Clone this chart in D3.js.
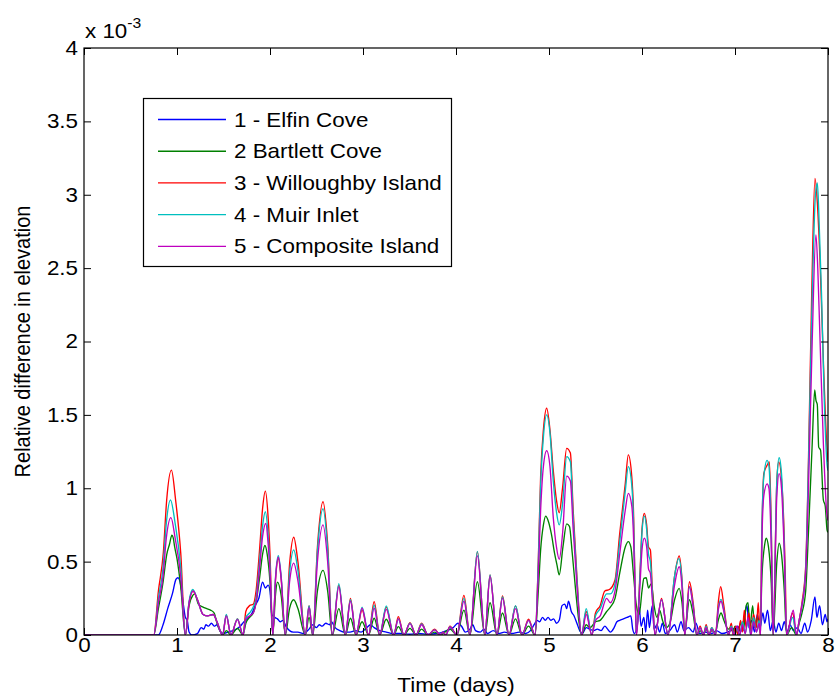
<!DOCTYPE html>
<html>
<head>
<meta charset="utf-8">
<script src="https://cdn.jsdelivr.net/npm/d3@7"></script>
<style>
  html, body { margin: 0; padding: 0; background: #fff; }
  svg { display: block; }
  text { font-family: "Liberation Sans", Arial, Helvetica, sans-serif; fill: #000; }
</style>
</head>
<body>
<div id="chart"></div>
<script>
// Relative difference in elevation (units of 1e-3) vs. time in days, per station.
const elfinCove = [
  [0,0],[0.80,0],[0.85,0.07],[0.90,0.18],[0.95,0.28],[0.99,0.38],[1.01,0.39],[1.03,0.37],[1.05,0.30],[1.07,0.20],
  [1.09,0.12],[1.11,0.10],[1.13,0.02],[1.16,0],[1.22,0.01],[1.26,0.05],[1.29,0.04],[1.31,0.07],[1.34,0.06],[1.37,0.08],
  [1.40,0.06],[1.43,0.07],[1.46,0.03],[1.50,0.01],[1.55,0.02],[1.60,0.03],[1.64,0.04],[1.68,0.06],[1.72,0.09],[1.76,0.11],
  [1.80,0.14],[1.84,0.20],[1.88,0.25],[1.92,0.36],[1.95,0.32],[1.98,0.34],[2.00,0.30],[2.02,0.14],[2.05,0.12],[2.08,0.11],
  [2.11,0.09],[2.14,0.10],[2.17,0.06],[2.21,0.03],[2.25,0.02],[2.30,0.02],[2.36,0.01],[2.42,0.04],[2.46,0.07],[2.50,0.05],
  [2.53,0.07],[2.56,0.06],[2.60,0.08],[2.64,0.07],[2.66,0.09],[2.70,0.05],[2.75,0.03],[2.80,0.02],[2.86,0.02],[2.92,0.03],
  [2.98,0.02],[3.04,0.05],[3.08,0.07],[3.12,0.05],[3.18,0.03],[3.25,0.02],[3.32,0.01],[3.40,0.01],[3.50,0.005],[3.60,0.01],
  [3.70,0.005],[3.80,0.01],[3.90,0.03],[3.97,0.05],[4.02,0.08],[4.06,0.06],[4.10,0.02],[4.15,0.04],[4.18,0.07],[4.21,0.03],
  [4.26,0.02],[4.30,0.04],[4.34,0.01],[4.40,0.03],[4.46,0.01],[4.52,0.02],[4.60,0.01],[4.68,0.02],[4.75,0.01],[4.80,0.03],
  [4.84,0.07],[4.87,0.10],[4.90,0.09],[4.93,0.12],[4.96,0.10],[4.99,0.12],[5.02,0.10],[5.05,0.11],[5.08,0.08],[5.11,0.10],
  [5.14,0.20],[5.17,0.21],[5.19,0.18],[5.21,0.23],[5.24,0.16],[5.27,0.13],[5.30,0.08],[5.33,0.03],[5.36,0.01],[5.40,0.05],
  [5.44,0.04],[5.48,0.03],[5.52,0.04],[5.56,0.03],[5.60,0.06],[5.63,0.04],[5.66,0.02],[5.70,0.05],[5.73,0.09],[5.76,0.10],
  [5.80,0.11],[5.84,0.12],[5.88,0.13],[5.90,0.04],[5.92,0.01],[5.95,0.08],[5.97,0.19],[5.99,0.06],[6.02,0.12],[6.04,0.02],
  [6.06,0.17],[6.08,0.05],[6.11,0.20],[6.13,0.04],[6.16,0.07],[6.19,0.02],[6.22,0.08],[6.25,0.01],[6.30,0.03],[6.35,0.07],
  [6.38,0.02],[6.42,0.09],[6.45,0.03],[6.50,0.05],[6.55,0.02],[6.58,0.08],[6.62,0.01],[6.68,0.02],[6.75,0.01],[6.80,0.03],
  [6.86,0.01],[6.92,0.02],[6.98,0.04],[7.03,0.06],[7.06,0.02],[7.10,0.12],[7.13,0.20],[7.15,0.05],[7.18,0.10],[7.21,0.02],
  [7.24,0.14],[7.27,0.05],[7.30,0.15],[7.32,0.08],[7.35,0.17],[7.38,0.03],[7.41,0.10],[7.44,0.02],[7.47,0.08],[7.50,0.03],
  [7.53,0.09],[7.56,0.02],[7.59,0.07],[7.63,0.03],[7.67,0.05],[7.71,0.01],[7.75,0.08],[7.78,0.02],[7.82,0.10],[7.86,0.26],
  [7.88,0.12],[7.91,0.20],[7.94,0.07],[7.97,0.14],[7.99,0.09],[8.0,0.11]
];

const bartlettCove = [
  [0,0],[0.75,0],[0.80,0.18],[0.85,0.36],[0.89,0.55],[0.92,0.62],[0.945,0.68],[0.96,0.66],[0.975,0.60],[1.00,0.52],[1.04,0.33],[1.09,0],
  [1.13,0.20],[1.17,0.27],[1.19,0.28],[1.23,0.21],[1.28,0.19],[1.32,0.18],[1.36,0.17],[1.40,0.15],[1.43,0.08],[1.47,0.02],[1.49,0],
  [1.53,0.03],[1.58,0],[1.65,0.045],[1.71,0],
  [1.74,0.08],[1.78,0.12],[1.82,0.15],[1.85,0.22],[1.89,0.40],[1.92,0.55],[1.945,0.61],[1.97,0.55],[2.00,0.36],[2.03,0],
  [2.06,0.28],[2.08,0.36],[2.12,0.27],[2.165,0],
  [2.21,0.18],[2.255,0.24],[2.30,0.18],[2.38,0],
  [2.42,0.12],[2.46,0],
  [2.51,0.30],[2.57,0.44],[2.62,0.30],[2.67,0],
  [2.74,0.18],[2.81,0],[2.865,0.114],[2.925,0],[2.99,0.09],[3.06,0],[3.12,0.114],[3.18,0],[3.25,0.107],[3.33,0],
  [3.38,0.057],[3.44,0],[3.505,0.045],[3.57,0],[3.63,0.04],[3.70,0],[3.77,0.02],[3.83,0],[3.935,0.04],[4.01,0],
  [4.085,0.17],[4.15,0],[4.23,0.363],[4.31,0],[4.366,0.22],[4.44,0],[4.50,0.15],[4.57,0],[4.64,0.11],[4.71,0],[4.78,0.06],[4.85,0],
  [4.885,0.30],[4.91,0.58],[4.94,0.75],[4.965,0.81],[4.99,0.78],[5.025,0.69],[5.06,0.557],[5.085,0.48],[5.11,0.41],
  [5.15,0.60],[5.19,0.757],[5.22,0.74],[5.25,0.557],[5.29,0.28],[5.32,0.10],[5.35,0],
  [5.40,0.07],[5.44,0.05],[5.50,0.09],[5.55,0.10],[5.62,0.16],[5.66,0.19],[5.71,0.25],[5.76,0.42],[5.82,0.60],[5.853,0.636],
  [5.88,0.60],[5.91,0.40],[5.94,0.20],[5.97,0.14],[6.00,0.30],[6.02,0.386],[6.045,0.39],[6.07,0.32],[6.10,0.35],[6.13,0.20],
  [6.16,0.12],[6.19,0.17],[6.22,0.10],[6.26,0.05],[6.30,0.08],
  [6.35,0.24],[6.40,0.318],[6.43,0.22],[6.46,0.02],[6.51,0.24],[6.55,0.14],[6.59,0],
  [6.625,0.03],[6.66,0],[6.69,0.04],[6.72,0],[6.75,0.03],[6.79,0.02],[6.82,0.10],[6.85,0.15],[6.88,0.10],[6.93,0.04],
  [6.95,0.05],[6.98,0.02],[7.00,0.06],[7.03,0.01],[7.06,0.08],[7.09,0.03],[7.12,0.20],[7.14,0.22],[7.16,0.05],[7.19,0.20],
  [7.21,0.05],[7.24,0.12],[7.27,0.02],
  [7.29,0.40],[7.32,0.62],[7.335,0.66],[7.36,0.60],[7.39,0.35],[7.41,0],
  [7.45,0.50],[7.475,0.625],[7.50,0.55],[7.53,0.30],[7.555,0],[7.61,0.05],[7.66,0],
  [7.69,0.08],[7.72,0.15],[7.76,0.30],[7.79,0.70],[7.83,1.30],[7.857,1.67],[7.87,1.60],[7.885,1.57],[7.90,1.28],[7.92,1.26],
  [7.95,0.92],[7.97,0.88],[7.99,0.715],[8.0,0.70]
];

const willoughbyIsland = [
  [0,0],[0.75,0],[0.80,0.30],[0.853,0.56],[0.889,0.92],[0.94,1.124],[0.985,0.92],[1.04,0.56],[1.09,0],
  [1.13,0.22],[1.17,0.30],[1.22,0.24],[1.28,0.14],[1.33,0.13],[1.39,0.14],[1.43,0.09],[1.49,0],
  [1.53,0.135],[1.58,0],[1.65,0.11],[1.71,0],
  [1.74,0.16],[1.78,0.20],[1.82,0.21],[1.85,0.30],[1.89,0.60],[1.92,0.86],[1.95,0.98],[1.98,0.80],[2.00,0.55],[2.03,0],
  [2.06,0.38],[2.09,0.52],[2.12,0.38],[2.165,0],
  [2.21,0.48],[2.255,0.666],[2.30,0.50],[2.38,0],
  [2.42,0.20],[2.46,0],
  [2.51,0.60],[2.57,0.908],[2.62,0.62],[2.67,0],
  [2.74,0.34],[2.81,0],[2.865,0.25],[2.925,0],[2.99,0.17],[3.06,0],[3.12,0.227],[3.18,0],[3.25,0.19],[3.33,0],
  [3.38,0.125],[3.44,0],[3.505,0.084],[3.57,0],[3.63,0.08],[3.70,0],[3.77,0.04],[3.83,0],[3.86,0.02],[3.89,0],[3.935,0.06],[4.01,0],
  [4.085,0.27],[4.15,0],[4.23,0.568],[4.31,0],[4.366,0.41],[4.44,0],[4.50,0.266],[4.57,0],[4.64,0.198],[4.71,0],[4.78,0.107],[4.85,0],
  [4.885,0.51],[4.91,1.08],[4.94,1.40],[4.975,1.545],[5.01,1.40],[5.046,1.12],[5.08,0.92],[5.11,0.833],[5.147,1.01],
  [5.19,1.272],[5.23,1.24],[5.26,0.85],[5.30,0.40],[5.35,0],
  [5.40,0.16],[5.46,0],
  [5.50,0.15],[5.55,0.20],[5.60,0.30],[5.65,0.31],[5.71,0.375],[5.76,0.69],[5.82,1.03],[5.853,1.227],[5.89,1.08],[5.91,0.81],[5.925,0.35],[5.94,0],
  [5.98,0.45],[6.00,0.72],[6.025,0.829],[6.05,0.75],[6.07,0.60],[6.09,0.58],[6.11,0.33],[6.14,0],
  [6.21,0.25],[6.28,0],
  [6.35,0.40],[6.40,0.538],[6.43,0.38],[6.46,0],
  [6.51,0.363],[6.55,0.22],[6.59,0],
  [6.625,0.06],[6.66,0],[6.69,0.07],[6.72,0],[6.75,0.05],[6.79,0],
  [6.82,0.22],[6.846,0.33],[6.88,0.20],[6.93,0],
  [6.96,0.08],[6.98,0],[7.01,0.06],[7.03,0],[7.06,0.10],[7.08,0.02],[7.10,0.17],[7.12,0.05],[7.15,0.15],[7.17,0.02],
  [7.20,0.14],[7.23,0.05],[7.25,0.22],[7.27,0],
  [7.29,0.74],[7.31,1.10],[7.34,1.15],[7.37,1.18],[7.39,0.74],[7.41,0],
  [7.45,1.05],[7.47,1.18],[7.51,0.97],[7.54,0.43],[7.555,0],
  [7.62,0.15],[7.66,0],
  [7.69,0.10],[7.72,0.22],[7.76,0.47],[7.79,1.19],[7.825,2.33],[7.86,3.112],[7.885,2.95],[7.914,2.555],[7.95,1.87],[7.99,1.26],[8.0,1.18]
];

const muirInlet = [
  [0,0],[0.75,0],[0.80,0.25],[0.85,0.46],[0.885,0.76],[0.93,0.92],[0.98,0.76],[1.04,0.46],[1.09,0],
  [1.13,0.23],[1.17,0.31],[1.22,0.24],[1.28,0.14],[1.33,0.13],[1.39,0.14],[1.43,0.09],[1.49,0],
  [1.53,0.14],[1.58,0],[1.65,0.11],[1.71,0],
  [1.74,0.12],[1.78,0.15],[1.82,0.19],[1.85,0.25],[1.89,0.52],[1.92,0.74],[1.95,0.84],[1.98,0.68],[2.00,0.47],[2.03,0],
  [2.06,0.40],[2.09,0.54],[2.12,0.40],[2.165,0],
  [2.21,0.42],[2.255,0.58],[2.30,0.44],[2.38,0],
  [2.42,0.20],[2.46,0],
  [2.51,0.57],[2.57,0.86],[2.62,0.58],[2.67,0],
  [2.74,0.35],[2.81,0],[2.865,0.24],[2.925,0],[2.99,0.19],[3.06,0],[3.12,0.204],[3.18,0],[3.25,0.198],[3.33,0],
  [3.38,0.11],[3.44,0],[3.505,0.08],[3.57,0],[3.63,0.075],[3.70,0],[3.77,0.035],[3.83,0],[3.86,0.02],[3.89,0],[3.935,0.055],[4.01,0],
  [4.085,0.25],[4.15,0],[4.23,0.57],[4.31,0],[4.366,0.41],[4.44,0],[4.50,0.26],[4.57,0],[4.64,0.20],[4.71,0],[4.78,0.10],[4.85,0],
  [4.885,0.49],[4.91,1.02],[4.94,1.35],[4.975,1.50],[5.01,1.38],[5.046,1.05],[5.08,0.84],[5.11,0.75],[5.147,0.90],
  [5.19,1.215],[5.23,1.18],[5.26,0.80],[5.30,0.38],[5.35,0],
  [5.40,0.18],[5.46,0],
  [5.50,0.13],[5.55,0.18],[5.62,0.28],[5.66,0.28],[5.71,0.35],[5.76,0.63],[5.82,0.98],[5.853,1.147],[5.89,1.02],[5.91,0.75],[5.925,0.33],[5.94,0],
  [5.98,0.42],[6.00,0.70],[6.025,0.81],[6.05,0.72],[6.07,0.55],[6.09,0.50],[6.11,0.30],[6.14,0],
  [6.21,0.24],[6.28,0],
  [6.35,0.40],[6.395,0.52],[6.43,0.37],[6.46,0],
  [6.51,0.33],[6.55,0.20],[6.59,0],
  [6.625,0.05],[6.66,0],[6.69,0.06],[6.72,0],[6.75,0.05],[6.79,0],
  [6.82,0.18],[6.85,0.243],[6.88,0.17],[6.93,0],
  [6.96,0.06],[6.99,0],[7.02,0.05],[7.05,0],[7.08,0.09],[7.11,0.01],[7.14,0.10],[7.17,0],[7.20,0.12],[7.23,0.02],[7.26,0.10],[7.275,0],
  [7.29,0.74],[7.31,1.08],[7.345,1.19],[7.365,1.15],[7.39,0.70],[7.41,0],
  [7.45,1.05],[7.475,1.208],[7.50,1.10],[7.53,0.60],[7.555,0],
  [7.62,0.12],[7.66,0],
  [7.69,0.10],[7.72,0.20],[7.76,0.45],[7.79,1.15],[7.83,2.30],[7.865,3.0],[7.885,3.08],[7.90,2.9],[7.93,2.33],[7.96,1.60],[7.99,1.16],[8.0,1.12]
];

const compositeIsland = [
  [0,0],[0.75,0],[0.80,0.22],[0.85,0.40],[0.885,0.66],[0.935,0.80],[0.98,0.66],[1.04,0.40],[1.09,0],
  [1.13,0.22],[1.175,0.30],[1.22,0.24],[1.28,0.14],[1.33,0.13],[1.39,0.14],[1.43,0.09],[1.49,0],
  [1.53,0.13],[1.58,0],[1.65,0.105],[1.71,0],
  [1.74,0.11],[1.78,0.13],[1.82,0.15],[1.85,0.22],[1.89,0.47],[1.92,0.67],[1.955,0.76],[1.98,0.62],[2.00,0.43],[2.03,0],
  [2.06,0.39],[2.09,0.53],[2.12,0.39],[2.165,0],
  [2.21,0.36],[2.255,0.49],[2.30,0.37],[2.38,0],
  [2.42,0.19],[2.46,0],
  [2.51,0.50],[2.57,0.75],[2.62,0.50],[2.67,0],
  [2.74,0.33],[2.81,0],[2.865,0.23],[2.925,0],[2.99,0.182],[3.06,0],[3.12,0.182],[3.18,0],[3.25,0.175],[3.33,0],
  [3.38,0.11],[3.44,0],[3.505,0.078],[3.57,0],[3.63,0.07],[3.70,0],[3.77,0.035],[3.83,0],[3.86,0.02],[3.89,0],[3.935,0.055],[4.01,0],
  [4.085,0.23],[4.15,0],[4.23,0.54],[4.31,0],[4.366,0.40],[4.44,0],[4.50,0.25],[4.57,0],[4.64,0.18],[4.71,0],[4.78,0.10],[4.85,0],
  [4.885,0.42],[4.91,0.85],[4.94,1.15],[4.975,1.256],[5.01,1.15],[5.046,0.80],[5.08,0.60],[5.11,0.516],[5.147,0.70],
  [5.19,1.083],[5.23,1.05],[5.26,0.72],[5.30,0.34],[5.35,0],
  [5.40,0.14],[5.46,0],
  [5.50,0.10],[5.55,0.13],[5.62,0.25],[5.66,0.22],[5.71,0.30],[5.76,0.55],[5.82,0.85],[5.853,0.965],[5.89,0.88],[5.91,0.65],[5.925,0.30],[5.94,0],
  [5.98,0.36],[6.00,0.58],[6.025,0.66],[6.05,0.60],[6.07,0.45],[6.09,0.42],[6.11,0.25],[6.14,0],
  [6.21,0.24],[6.28,0],
  [6.35,0.34],[6.40,0.465],[6.43,0.33],[6.46,0],
  [6.51,0.33],[6.55,0.19],[6.59,0],
  [6.625,0.05],[6.66,0],[6.69,0.05],[6.72,0],[6.75,0.04],[6.79,0],
  [6.82,0.17],[6.85,0.23],[6.88,0.16],[6.93,0],
  [6.96,0.05],[6.99,0],[7.02,0.06],[7.05,0],[7.08,0.07],[7.11,0.01],[7.14,0.12],[7.17,0],[7.20,0.09],[7.23,0.02],[7.26,0.08],[7.275,0],
  [7.29,0.65],[7.31,0.95],[7.345,1.03],[7.365,1.0],[7.39,0.60],[7.41,0],
  [7.45,0.95],[7.475,1.10],[7.50,1.0],[7.53,0.55],[7.555,0],
  [7.627,0.17],[7.66,0],
  [7.69,0.10],[7.72,0.20],[7.76,0.42],[7.79,1.0],[7.83,2.0],[7.87,2.726],[7.89,2.5],[7.91,2.1],[7.95,1.31],[7.99,0.81],[8.0,0.78]
];

const seriesNames = ["1 - Elfin Cove", "2 Bartlett Cove", "3 - Willoughby Island", "4 - Muir Inlet", "5 - Composite Island"];
const seriesColors = ["#0000ff", "#008000", "#ff0000", "#00bfbf", "#bf00bf"];
const seriesData = [elfinCove, bartlettCove, willoughbyIsland, muirInlet, compositeIsland];

const xTicks = [0, 1, 2, 3, 4, 5, 6, 7, 8];
const yTicks = [0, 0.5, 1, 1.5, 2, 2.5, 3, 3.5, 4];

const W = 837, H = 700;
const plot = { left: 84, right: 828, top: 48, bottom: 635 };
const FONT = 20;      // text size
const WIDEN = 1.12;   // horizontal glyph stretch used for all text

const svg = d3.select("#chart").append("svg")
  .attr("width", W).attr("height", H)
  .attr("viewBox", `0 0 ${W} ${H}`);

const x = d3.scaleLinear().domain([0, 8]).range([plot.left, plot.right]);
const y = d3.scaleLinear().domain([0, 4]).range([plot.bottom, plot.top]);

// Place a text element at (tx, ty) with the wide glyph stretch
function placeText(sel, tx, ty) {
  return sel.attr("x", 0).attr("y", 0)
    .attr("transform", `translate(${tx},${ty}) scale(${WIDEN},1)`);
}

svg.append("defs").append("clipPath").attr("id", "plot-clip")
  .append("rect")
  .attr("x", plot.left).attr("y", plot.top)
  .attr("width", plot.right - plot.left).attr("height", plot.bottom - plot.top);

// Data lines, drawn in station order so the last one sits on top
const line = d3.line()
  .x(d => x(d[0]))
  .y(d => y(d[1]))
  .curve(d3.curveMonotoneX);

const lines = svg.append("g").attr("clip-path", "url(#plot-clip)");
seriesData.forEach((data, i) => {
  lines.append("path")
    .datum(data)
    .attr("d", line)
    .attr("fill", "none")
    .attr("stroke", seriesColors[i])
    .attr("stroke-width", 1.35)
    .attr("stroke-linejoin", "round");
});

// Axes: inward ticks on all four sides, labels on bottom and left
const tickLen = 7;
const fmt = d => String(d);

const xBottom = d3.axisBottom(x).tickValues(xTicks).tickSize(-tickLen).tickPadding(3).tickFormat(fmt);
const xTop = d3.axisTop(x).tickValues(xTicks).tickSize(-tickLen).tickFormat("");
const yLeft = d3.axisLeft(y).tickValues(yTicks).tickSize(-tickLen).tickPadding(6).tickFormat(fmt);
const yRight = d3.axisRight(y).tickValues(yTicks).tickSize(-tickLen).tickFormat("");

function styleAxis(g) {
  g.select(".domain").remove();
  g.selectAll(".tick line").attr("stroke", "#000").attr("stroke-width", 1);
  g.selectAll(".tick text").each(function() {
    const t = d3.select(this);
    const tx = +t.attr("x") || 0, ty = +t.attr("y") || 0;
    t.attr("font-size", FONT).attr("fill", "#000")
      .style("font-family", '"Liberation Sans", Arial, sans-serif');
    placeText(t, tx, ty);
  });
}

svg.append("g").attr("transform", `translate(0,${plot.bottom})`).call(xBottom).call(styleAxis);
svg.append("g").attr("transform", `translate(0,${plot.top})`).call(xTop).call(styleAxis);
svg.append("g").attr("transform", `translate(${plot.left},0)`).call(yLeft).call(styleAxis);
svg.append("g").attr("transform", `translate(${plot.right},0)`).call(yRight).call(styleAxis);

// Axes box
svg.append("rect")
  .attr("x", plot.left).attr("y", plot.top)
  .attr("width", plot.right - plot.left).attr("height", plot.bottom - plot.top)
  .attr("fill", "none").attr("stroke", "#000").attr("stroke-width", 1.2);

// Exponent multiplier above the y axis
const mult = placeText(svg.append("text"), plot.left + 1, 38).attr("font-size", FONT);
mult.append("tspan").text("x 10");
mult.append("tspan").attr("font-size", 14).attr("dy", -10).text("-3");

// Axis titles
placeText(svg.append("text"), (plot.left + plot.right) / 2, 692)
  .attr("text-anchor", "middle").attr("font-size", FONT)
  .text("Time (days)");

svg.append("text")
  .attr("transform", `translate(30,${(plot.top + plot.bottom) / 2}) scale(${WIDEN},1) rotate(-90)`)
  .attr("text-anchor", "middle").attr("font-size", FONT)
  .text("Relative difference in elevation");

// Legend
const legend = svg.append("g");
legend.append("rect")
  .attr("x", 143.5).attr("y", 98.5).attr("width", 308).attr("height", 168)
  .attr("fill", "#fff").attr("stroke", "#000").attr("stroke-width", 1.2);

seriesNames.forEach((name, i) => {
  const cy = 119.5 + i * 31.7;
  legend.append("line")
    .attr("x1", 158).attr("x2", 226).attr("y1", cy).attr("y2", cy)
    .attr("stroke", seriesColors[i]).attr("stroke-width", 1.35);
  placeText(legend.append("text"), 234, cy + 7)
    .attr("font-size", FONT)
    .text(name);
});
</script>
</body>
</html>
